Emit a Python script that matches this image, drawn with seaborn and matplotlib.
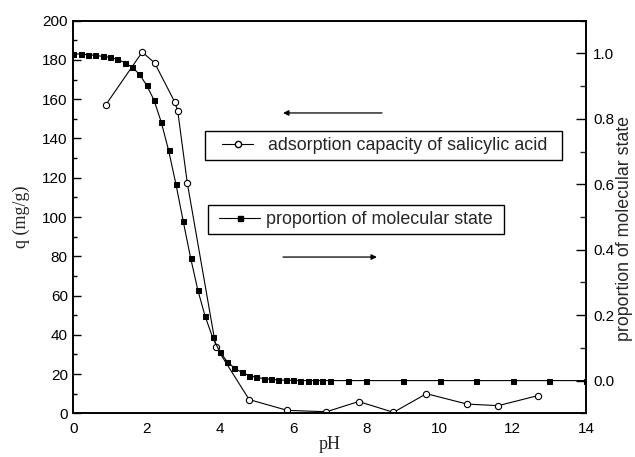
import numpy as np
import pandas as pd
import matplotlib
matplotlib.use("Agg")
import matplotlib.pyplot as plt
import seaborn as sns
from matplotlib.lines import Line2D
from matplotlib.patches import Rectangle
from matplotlib.ticker import MultipleLocator, FormatStrFormatter

# adsorption capacity of salicylic acid (left axis, mg/g)
ph_ads = [0.88, 1.88, 2.22, 2.77, 2.85, 3.11, 3.89, 4.80, 5.84, 6.91,
          7.79, 8.74, 9.64, 10.75, 11.60, 12.68]
q_ads = [157.0, 184.0, 178.5, 158.5, 154.0, 117.5, 34.0, 7.0, 1.5, 0.8,
         6.0, 0.5, 10.0, 4.7, 3.9, 9.0]

# proportion of molecular state (right axis)
ph_mol = [0.0, 0.2, 0.4, 0.6, 0.8, 1.0, 1.2, 1.4, 1.6, 1.8,
          2.0, 2.2, 2.4, 2.6, 2.8, 3.0, 3.2, 3.4, 3.6, 3.8,
          4.0, 4.2, 4.4, 4.6, 4.8, 5.0, 5.2, 5.4, 5.6, 5.8,
          6.0, 6.2, 6.4, 6.6, 6.8, 7.0, 7.5, 8.0, 9.0, 10.0,
          11.0, 12.0, 13.0, 14.0]
frac_mol = [0.999, 0.998, 0.996, 0.994, 0.991, 0.988, 0.982, 0.972, 0.958, 0.937,
            0.903, 0.858, 0.790, 0.704, 0.601, 0.487, 0.376, 0.276, 0.196, 0.133,
            0.088, 0.058, 0.038, 0.025, 0.015, 0.010, 0.006, 0.004, 0.002, 0.001,
            0.001, 0.0, 0.0, 0.0, 0.0, 0.0, 0.0, 0.0, 0.0, 0.0,
            0.0, 0.0, 0.0, 0.0]

label_ads = "adsorption capacity of salicylic acid"
label_mol = "proportion of molecular state"
xlabel = "pH"
ylabel_left = "q (mg/g)"
ylabel_right = "proportion of molecular state"

df_ads = pd.DataFrame({"pH": ph_ads, "q": q_ads})
df_mol = pd.DataFrame({"pH": ph_mol, "frac": frac_mol})

sns.set_style("white")
plt.rcParams["font.family"] = ["Liberation Sans", "DejaVu Sans"]
plt.rcParams["xtick.direction"] = "in"
plt.rcParams["ytick.direction"] = "in"

fig = plt.figure(figsize=(6.35, 4.57), dpi=100)
ax = fig.add_axes([0.1155, 0.0956, 0.8075, 0.8591])
ax2 = ax.twinx()

sns.lineplot(data=df_ads, x="pH", y="q", ax=ax, color="black", lw=0.8,
             marker="o", markersize=4.5, markerfacecolor="white",
             markeredgecolor="black", markeredgewidth=0.8, sort=False)
sns.lineplot(data=df_mol, x="pH", y="frac", ax=ax2, color="black", lw=0.8,
             marker="s", markersize=3.6, markerfacecolor="black",
             markeredgecolor="black", sort=False)

ax.set_xlim(0, 14)
ax.set_ylim(0, 200)
ax2.set_ylim(-0.1, 1.1)

ax.xaxis.set_major_locator(MultipleLocator(2))
ax.xaxis.set_minor_locator(MultipleLocator(1))
ax.yaxis.set_major_locator(MultipleLocator(20))
ax.yaxis.set_minor_locator(MultipleLocator(10))
ax2.yaxis.set_major_locator(MultipleLocator(0.2))
ax2.yaxis.set_minor_locator(MultipleLocator(0.1))
ax2.yaxis.set_major_formatter(FormatStrFormatter("%.1f"))

ax.tick_params(axis="both", which="major", length=6, width=1.0, labelsize=11,
               top=False, right=False, color="black", labelcolor="black", pad=4)
ax.tick_params(axis="both", which="minor", length=3, width=1.0,
               top=False, right=False, color="black")
ax.tick_params(axis="x", which="major", length=7, pad=6)
ax.tick_params(axis="x", which="minor", length=4)
ax2.tick_params(axis="y", which="major", length=7, width=1.0, labelsize=11,
                direction="in", color="black", labelcolor="black", pad=5)
ax2.tick_params(axis="y", which="minor", length=4, width=1.0, direction="in")

for a in (ax, ax2):
    for s in a.spines.values():
        s.set_linewidth(1.2)
        s.set_color("black")

ax.set_xlabel(xlabel, family=["Liberation Serif"], fontsize=13, labelpad=0)
ax.set_ylabel(ylabel_left, family=["Liberation Serif"], fontsize=13, labelpad=9)
ax2.set_ylabel(ylabel_right, fontsize=12.8)
ax2.yaxis.set_label_coords(1.059, 0.47)

h1 = Line2D([], [], color="black", lw=0.8, marker="o", markersize=4.5,
            markerfacecolor="white", markeredgecolor="black")
h2 = Line2D([], [], color="black", lw=0.8, marker="s", markersize=3.6,
            markerfacecolor="black", markeredgecolor="black")

# legend frames
for (x0, y0, x1, y1) in [(0.257, 0.645, 0.953, 0.719), (0.263, 0.457, 0.840, 0.530)]:
    ax2.add_patch(Rectangle((x0, y0), x1 - x0, y1 - y0, transform=ax.transAxes,
                            facecolor="white", edgecolor="black", lw=1.0,
                            zorder=4, clip_on=False))

leg1 = ax2.legend([h1], [label_ads], loc="center left",
                  bbox_to_anchor=(0.290, 0.682), bbox_transform=ax.transAxes,
                  borderaxespad=0, borderpad=0, fontsize=12.9, frameon=False,
                  handlelength=1.75, handletextpad=0.8)
leg1.set_zorder(5)
ax2.add_artist(leg1)
leg2 = ax2.legend([h2], [label_mol], loc="center left",
                  bbox_to_anchor=(0.284, 0.494), bbox_transform=ax.transAxes,
                  borderaxespad=0, borderpad=0, fontsize=12.9, frameon=False,
                  handlelength=2.3, handletextpad=0.35)
leg2.set_zorder(5)

ax.annotate("", xy=(0.409, 0.765), xytext=(0.602, 0.765),
            xycoords="axes fraction",
            arrowprops=dict(arrowstyle="-|>", lw=0.9, color="black",
                            mutation_scale=8, shrinkA=0, shrinkB=0))
ax.annotate("", xy=(0.592, 0.398), xytext=(0.409, 0.398),
            xycoords="axes fraction",
            arrowprops=dict(arrowstyle="-|>", lw=0.9, color="black",
                            mutation_scale=8, shrinkA=0, shrinkB=0))

fig.savefig("out.png", dpi=100)
